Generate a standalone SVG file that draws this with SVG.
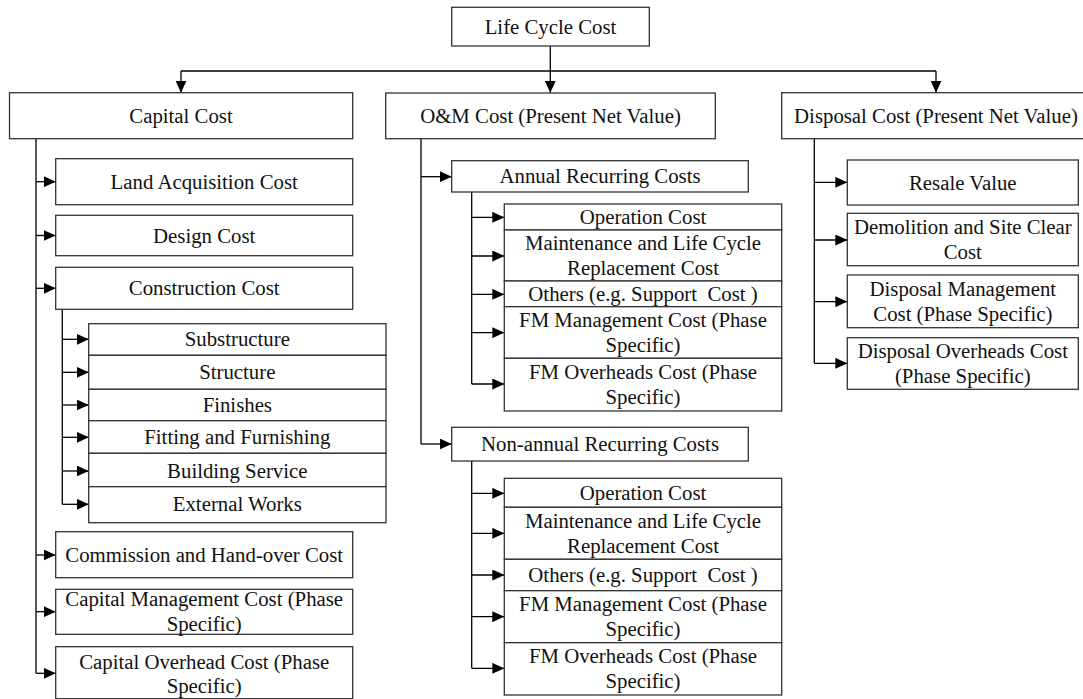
<svg xmlns="http://www.w3.org/2000/svg" width="1083" height="699" viewBox="0 0 1083 699">
  <style>
    .box { fill: #ffffff; stroke: #333333; stroke-width: 1.3; }
    .lbl { font-family: "Liberation Serif", "Times New Roman", serif; font-size: 20.8px; fill: #111111; text-anchor: middle; white-space: pre; }
    .wire { fill: none; stroke: #000000; stroke-width: 1.3; }
    .arr { marker-end: url(#head); }
  </style>
  <defs>
    <marker id="head" viewBox="0 0 12 11" refX="12" refY="5.5" markerWidth="12" markerHeight="11" markerUnits="userSpaceOnUse" orient="auto">
      <path d="M0,0 L12,5.5 L0,11 z" fill="#000000"/>
    </marker>
  </defs>
  <rect width="1083" height="699" fill="#ffffff"/>

  <!-- connectors -->
  <g id="connectors">
    <!-- root to the three cost categories -->
    <path class="wire" d="M550.3,46 V71"/>
    <path class="wire" d="M181,71 H936"/>
    <path class="wire arr" d="M181,71 V92.7"/>
    <path class="wire arr" d="M550.3,71 V92.7"/>
    <path class="wire arr" d="M936,71 V92.7"/>

    <!-- capital cost branches -->
    <path class="wire" d="M36,138.7 V673.3"/>
    <path class="wire arr" d="M36,181.7 H55.7"/>
    <path class="wire arr" d="M36,235.5 H55.7"/>
    <path class="wire arr" d="M36,288.3 H55.7"/>
    <path class="wire arr" d="M36,555 H55.7"/>
    <path class="wire arr" d="M36,611.7 H55.7"/>
    <path class="wire arr" d="M36,673.3 H55.7"/>

    <!-- construction cost branches -->
    <path class="wire" d="M62.3,309.3 V504.3"/>
    <path class="wire arr" d="M62.3,339.3 H88.7"/>
    <path class="wire arr" d="M62.3,372.3 H88.7"/>
    <path class="wire arr" d="M62.3,405 H88.7"/>
    <path class="wire arr" d="M62.3,437.3 H88.7"/>
    <path class="wire arr" d="M62.3,471 H88.7"/>
    <path class="wire arr" d="M62.3,504.3 H88.7"/>

    <!-- O&M cost branches -->
    <path class="wire" d="M421,138.7 V444"/>
    <path class="wire arr" d="M421,176.7 H451.7"/>
    <path class="wire arr" d="M421,444 H451.7"/>

    <!-- annual recurring branches -->
    <path class="wire" d="M471.7,192 V384"/>
    <path class="wire arr" d="M471.7,217.3 H504.3"/>
    <path class="wire arr" d="M471.7,256 H504.3"/>
    <path class="wire arr" d="M471.7,294.3 H504.3"/>
    <path class="wire arr" d="M471.7,332.7 H504.3"/>
    <path class="wire arr" d="M471.7,384 H504.3"/>

    <!-- non-annual recurring branches -->
    <path class="wire" d="M471.7,461 V668.3"/>
    <path class="wire arr" d="M471.7,493.3 H504.3"/>
    <path class="wire arr" d="M471.7,533.3 H504.3"/>
    <path class="wire arr" d="M471.7,575 H504.3"/>
    <path class="wire arr" d="M471.7,616.7 H504.3"/>
    <path class="wire arr" d="M471.7,668.3 H504.3"/>

    <!-- disposal cost branches -->
    <path class="wire" d="M814.3,138.7 V363.3"/>
    <path class="wire arr" d="M814.3,182.3 H847.3"/>
    <path class="wire arr" d="M814.3,240 H847.3"/>
    <path class="wire arr" d="M814.3,301.7 H847.3"/>
    <path class="wire arr" d="M814.3,363.3 H847.3"/>
  </g>

  <!-- root -->
  <g id="life-cycle-cost">
    <rect class="box" x="451.7" y="7.3" width="197.6" height="38.7"/>
    <text class="lbl" x="550.5" y="33.7">Life Cycle Cost</text>
  </g>

  <!-- capital cost column -->
  <g id="capital-cost">
    <rect class="box" x="9.5" y="92.7" width="343.2" height="46"/>
    <text class="lbl" x="181" y="122.7">Capital Cost</text>
  </g>
  <g id="land-acquisition-cost">
    <rect class="box" x="55.7" y="158.7" width="297" height="46"/>
    <text class="lbl" x="204.2" y="188.7">Land Acquisition Cost</text>
  </g>
  <g id="design-cost">
    <rect class="box" x="55.7" y="215.3" width="297" height="40.4"/>
    <text class="lbl" x="204.2" y="242.5">Design Cost</text>
  </g>
  <g id="construction-cost">
    <rect class="box" x="55.7" y="267.3" width="297" height="42"/>
    <text class="lbl" x="204.2" y="295.3">Construction Cost</text>
  </g>
  <g id="substructure">
    <rect class="box" x="88.7" y="323.7" width="297.3" height="31.6"/>
    <text class="lbl" x="237.3" y="346.3">Substructure</text>
  </g>
  <g id="structure">
    <rect class="box" x="88.7" y="355.3" width="297.3" height="34"/>
    <text class="lbl" x="237.3" y="379.3">Structure</text>
  </g>
  <g id="finishes">
    <rect class="box" x="88.7" y="389.3" width="297.3" height="31.4"/>
    <text class="lbl" x="237.3" y="412">Finishes</text>
  </g>
  <g id="fitting-and-furnishing">
    <rect class="box" x="88.7" y="420.7" width="297.3" height="32.6"/>
    <text class="lbl" x="237.3" y="444.3">Fitting and Furnishing</text>
  </g>
  <g id="building-service">
    <rect class="box" x="88.7" y="453.3" width="297.3" height="33.4"/>
    <text class="lbl" x="237.3" y="478">Building Service</text>
  </g>
  <g id="external-works">
    <rect class="box" x="88.7" y="486.7" width="297.3" height="36"/>
    <text class="lbl" x="237.3" y="511.3">External Works</text>
  </g>
  <g id="commission-cost">
    <rect class="box" x="55.7" y="531.7" width="297" height="46"/>
    <text class="lbl" x="204.2" y="561.7">Commission and Hand-over Cost</text>
  </g>
  <g id="capital-management-cost">
    <rect class="box" x="55.7" y="589.3" width="297" height="45"/>
    <text class="lbl" x="204.2" y="606.4">Capital Management Cost (Phase</text>
    <text class="lbl" x="204.2" y="631.2">Specific)</text>
  </g>
  <g id="capital-overhead-cost">
    <rect class="box" x="55.7" y="646.7" width="297" height="52"/>
    <text class="lbl" x="204.2" y="668.7">Capital Overhead Cost (Phase</text>
    <text class="lbl" x="204.2" y="693.3">Specific)</text>
  </g>

  <!-- O&M cost column -->
  <g id="om-cost">
    <rect class="box" x="385.7" y="93" width="329.6" height="45.7"/>
    <text class="lbl" x="550.5" y="122.8">O&amp;M Cost (Present Net Value)</text>
  </g>
  <g id="annual-recurring-costs">
    <rect class="box" x="451.7" y="160.7" width="296.6" height="31.3"/>
    <text class="lbl" x="600" y="183.3">Annual Recurring Costs</text>
  </g>
  <g id="annual-operation-cost">
    <rect class="box" x="504.3" y="204" width="277.4" height="26"/>
    <text class="lbl" x="643" y="224">Operation Cost</text>
  </g>
  <g id="annual-maintenance-cost">
    <rect class="box" x="504.3" y="230" width="277.4" height="51"/>
    <text class="lbl" x="643" y="250.1">Maintenance and Life Cycle</text>
    <text class="lbl" x="643" y="274.9">Replacement Cost</text>
  </g>
  <g id="annual-other-cost">
    <rect class="box" x="504.3" y="281" width="277.4" height="25.7"/>
    <text class="lbl" x="643" y="300.8">Others (e.g. Support  Cost )</text>
  </g>
  <g id="annual-fm-management-cost">
    <rect class="box" x="504.3" y="306.7" width="277.4" height="51.6"/>
    <text class="lbl" x="643" y="327.1">FM Management Cost (Phase</text>
    <text class="lbl" x="643" y="351.9">Specific)</text>
  </g>
  <g id="annual-fm-overheads-cost">
    <rect class="box" x="504.3" y="358.3" width="277.4" height="52.7"/>
    <text class="lbl" x="643" y="379.4">FM Overheads Cost (Phase</text>
    <text class="lbl" x="643" y="404.2">Specific)</text>
  </g>
  <g id="non-annual-recurring-costs">
    <rect class="box" x="451.7" y="427.3" width="296.6" height="33.7"/>
    <text class="lbl" x="600" y="451.2">Non-annual Recurring Costs</text>
  </g>
  <g id="non-annual-operation-cost">
    <rect class="box" x="504.3" y="478.3" width="277.4" height="29"/>
    <text class="lbl" x="643" y="499.8">Operation Cost</text>
  </g>
  <g id="non-annual-maintenance-cost">
    <rect class="box" x="504.3" y="507.3" width="277.4" height="52"/>
    <text class="lbl" x="643" y="527.9">Maintenance and Life Cycle</text>
    <text class="lbl" x="643" y="552.7">Replacement Cost</text>
  </g>
  <g id="non-annual-other-cost">
    <rect class="box" x="504.3" y="559.3" width="277.4" height="31.4"/>
    <text class="lbl" x="643" y="582">Others (e.g. Support  Cost )</text>
  </g>
  <g id="non-annual-fm-management-cost">
    <rect class="box" x="504.3" y="590.7" width="277.4" height="52"/>
    <text class="lbl" x="643" y="611.3">FM Management Cost (Phase</text>
    <text class="lbl" x="643" y="636.1">Specific)</text>
  </g>
  <g id="non-annual-fm-overheads-cost">
    <rect class="box" x="504.3" y="642.7" width="277.4" height="52.3"/>
    <text class="lbl" x="643" y="663.4">FM Overheads Cost (Phase</text>
    <text class="lbl" x="643" y="688.2">Specific)</text>
  </g>

  <!-- disposal cost column -->
  <g id="disposal-cost">
    <rect class="box" x="781.7" y="92.7" width="308.6" height="46"/>
    <text class="lbl" x="936" y="122.8">Disposal Cost (Present Net Value)</text>
  </g>
  <g id="resale-value">
    <rect class="box" x="847.3" y="160" width="231" height="45"/>
    <text class="lbl" x="962.8" y="189.5">Resale Value</text>
  </g>
  <g id="demolition-cost">
    <rect class="box" x="847.3" y="213.3" width="231" height="52.4"/>
    <text class="lbl" x="962.8" y="234.1">Demolition and Site Clear</text>
    <text class="lbl" x="962.8" y="258.9">Cost</text>
  </g>
  <g id="disposal-management-cost">
    <rect class="box" x="847.3" y="275" width="231" height="52.7"/>
    <text class="lbl" x="962.8" y="295.9">Disposal Management</text>
    <text class="lbl" x="962.8" y="320.7">Cost (Phase Specific)</text>
  </g>
  <g id="disposal-overheads-cost">
    <rect class="box" x="847.3" y="337.7" width="231" height="51.6"/>
    <text class="lbl" x="962.8" y="358.1">Disposal Overheads Cost</text>
    <text class="lbl" x="962.8" y="382.9">(Phase Specific)</text>
  </g>
</svg>
